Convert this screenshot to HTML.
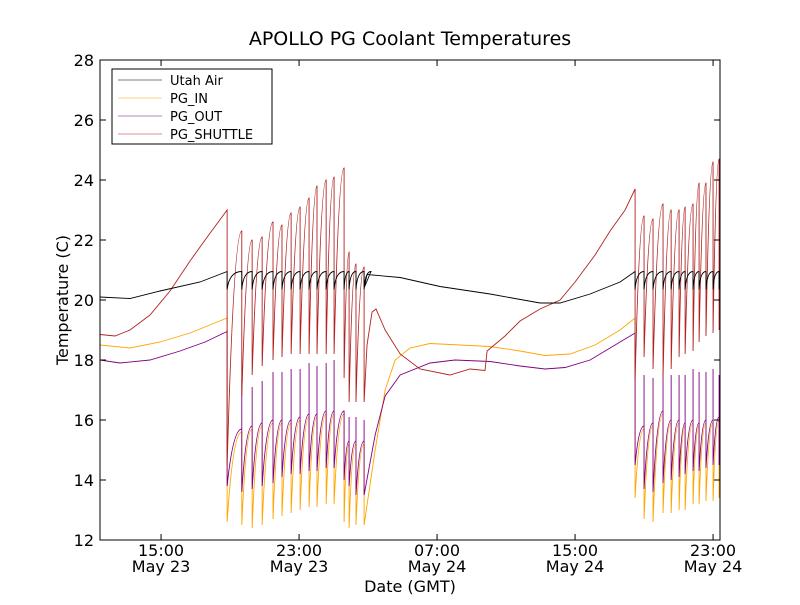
<!DOCTYPE html>
<html><head><meta charset="utf-8"><style>
body{margin:0;background:#fff;}
svg text{font-family:"DejaVu Sans","Liberation Sans",sans-serif;}
</style></head><body>
<svg id="chart" width="800" height="600" xmlns="http://www.w3.org/2000/svg">
<rect width="800" height="600" fill="#fff"/>
<defs><clipPath id="clip"><rect x="100" y="60" width="620" height="480"/></clipPath></defs>
<text x="410" y="45" text-anchor="middle" font-size="19">APOLLO PG Coolant Temperatures</text>
<g id="plot" clip-path="url(#clip)"></g>
<rect x="100" y="60" width="620" height="480" fill="none" stroke="#000" stroke-width="1"/>
<g id="axes"></g>
<text x="410" y="592" text-anchor="middle" font-size="16">Date (GMT)</text>
<text transform="translate(68,300) rotate(-90)" text-anchor="middle" font-size="16">Temperature (C)</text>
<g>
<rect x="112" y="69" width="160" height="75" fill="#fff" stroke="#000" stroke-width="1"/>
<g><line x1="118" y1="80" x2="162" y2="80" stroke="#000" stroke-width="0.6"/><text x="170" y="85" font-size="13">Utah Air</text></g>
<g><line x1="118" y1="98" x2="162" y2="98" stroke="orange" stroke-width="0.6"/><text x="170" y="103" font-size="13">PG_IN</text></g>
<g><line x1="118" y1="116" x2="162" y2="116" stroke="purple" stroke-width="0.6"/><text x="170" y="121" font-size="13">PG_OUT</text></g>
<g><line x1="118" y1="134" x2="162" y2="134" stroke="#b22222" stroke-width="0.6"/><text x="170" y="139" font-size="13">PG_SHUTTLE</text></g>
</g>
</svg>
<script>
// hours since May 23 00:00
const yTicks=[12,14,16,18,20,22,24,26,28];
const xTickHours=[15,23,31,39,47];
const xTickTimes=["15:00","23:00","07:00","15:00","23:00"];
const xTickDays=["May 23","May 23","May 24","May 24","May 24"];

const airPreT=[11.46,13.2,14.94,17.26,18.83];
const airPreV=[20.1,20.05,20.3,20.6,20.95];
const airMidT=[26.77,26.94,28.86,31.17,34.07,36.97,38.13,39.87,41.61,42.48];
const airMidV=[20.4,20.85,20.75,20.45,20.2,19.9,19.9,20.2,20.6,20.95];
const airPeak=20.95, airTrough=20.35;

const shPreT=[11.46,12.33,13.2,14.36,15.52,16.68,17.55,18.83];
const shPreV=[18.85,18.8,19.0,19.5,20.3,21.3,22.0,23.0];
const shMidT=[26.77,26.94,27.23,27.46,27.99,28.86,30.01,31.75,32.91,33.78,33.9,34.94,35.81,36.97,38.13,39.0,40.16,41.03,41.9,42.48];
const shMidV=[16.6,18.5,19.6,19.7,19.0,18.2,17.7,17.5,17.7,17.65,18.3,18.8,19.3,19.7,20.0,20.6,21.5,22.3,23.0,23.7];

const inPreT=[11.46,13.2,14.94,16.68,18.83];
const inPreV=[18.5,18.4,18.6,18.9,19.4];
const inMidT=[26.77,27.41,27.99,28.57,29.43,30.59,32.33,34.07,35.81,37.26,38.71,40.16,41.61,42.48];
const inMidV=[12.5,15.0,17.0,18.0,18.4,18.55,18.5,18.45,18.3,18.15,18.2,18.5,19.0,19.4];

const outPreT=[11.46,12.62,14.36,16.1,17.55,18.83];
const outPreV=[18.0,17.9,18.0,18.3,18.6,18.95];
const outMidT=[26.77,27.41,27.99,28.86,30.59,32.04,34.07,35.81,37.26,38.42,39.87,41.32,42.48];
const outMidV=[13.5,15.5,16.8,17.5,17.9,18.0,17.95,17.8,17.7,17.75,18.0,18.5,18.9];

const b1T=[18.83,19.68,20.28,20.86,21.49,22.01,22.54,23.06,23.58,24.04,24.57,25.03,25.61,25.90,26.30,26.77];
const b1ShPeak=[23.0,22.3,22.0,22.1,22.6,22.5,22.9,23.1,23.4,23.8,24.0,24.1,24.4,21.6,21.2,21.1];
const b1ShTrough=[14.5,16.8,17.5,17.8,18.0,18.1,18.2,18.2,18.2,18.2,18.2,18.2,17.4,16.6,16.6,16.6];
const b1OutTop=[19.0,17.4,17.1,17.3,17.6,17.6,17.7,17.7,17.9,17.8,17.9,18.0,16.2,16.1,16.1,16.0];
const b1OutBot=[13.8,13.6,13.7,13.8,13.9,14.1,14.2,14.2,14.3,14.3,14.4,14.4,14.0,13.8,13.5,13.5];
const b1OutPre=[18.95,15.7,15.8,15.9,16.0,16.0,16.0,16.1,16.2,16.2,16.3,16.3,16.3,15.3,15.3,15.3];
const b1InBot=[12.6,12.5,12.4,12.5,12.7,12.8,12.9,13.0,13.1,13.1,13.2,13.2,12.6,12.4,12.5,12.5];
const b1InPre=[19.4,15.6,15.7,15.8,15.9,15.9,15.9,16.0,16.1,16.1,16.2,16.2,16.2,15.2,15.2,15.2];

const b2T=[42.48,43.0,43.52,44.10,44.57,45.03,45.38,45.84,46.19,46.59,47.0,47.35];
const b2ShPeak=[23.7,22.8,22.7,23.2,23.0,23.0,23.1,23.2,23.9,23.9,24.6,24.7];
const b2ShTrough=[17.3,18.1,17.7,17.4,17.7,18.1,18.2,18.3,18.6,18.8,18.9,19.0];
const b2OutTop=[18.9,17.5,17.4,17.6,17.5,17.5,17.5,17.7,17.6,17.6,17.7,17.5];
const b2OutBot=[14.5,13.7,13.6,13.9,14.0,14.1,14.2,14.3,14.3,14.4,14.5,14.5];
const b2OutPre=[18.9,15.8,15.9,16.3,16.0,16.0,15.9,16.0,15.9,16.0,16.0,16.1];
const b2InBot=[13.4,12.7,12.6,12.9,12.9,13.0,13.0,13.2,13.2,13.3,13.3,13.4];
const b2InPre=[19.4,15.7,15.8,16.2,15.9,15.9,15.8,15.9,15.8,15.9,15.9,16.0];

const NS="http://www.w3.org/2000/svg";
const X=h=>100+(h-11.46)*17.25;
const Y=v=>540-(v-12)*30;
const plot=document.getElementById('plot');
const axes=document.getElementById('axes');

function lineD(T,V,start){let d='';for(let i=0;i<T.length;i++)d+=(i===0&&start?'M':'L')+X(T[i]).toFixed(2)+' '+Y(V[i]).toFixed(2)+' ';return d;}
function curve(t0,v0,t1,v1,f){const cx=t0+(t1-t0)*f;return 'Q'+X(cx).toFixed(2)+' '+Y(v1).toFixed(2)+' '+X(t1).toFixed(2)+' '+Y(v1).toFixed(2)+' ';}

function shuttleBlock(T,P,Tr){let d='';for(let i=0;i<T.length;i++){d+='L'+X(T[i]).toFixed(2)+' '+Y(P[i]).toFixed(2)+' L'+X(T[i]).toFixed(2)+' '+Y(Tr[i]).toFixed(2)+' ';if(i<T.length-1)d+=curve(T[i],Tr[i],T[i+1],P[i+1],0.45);}return d;}
function outBlock(T,Pre,Top,Bot){let d='';for(let i=0;i<T.length;i++){d+='L'+X(T[i]).toFixed(2)+' '+Y(Pre[i]).toFixed(2)+' L'+X(T[i]).toFixed(2)+' '+Y(Top[i]).toFixed(2)+' L'+X(T[i]).toFixed(2)+' '+Y(Bot[i]).toFixed(2)+' ';if(i<T.length-1)d+=curve(T[i],Bot[i],T[i+1],Pre[i+1],0.4);}return d;}
function inBlock(T,Pre,Bot){let d='';for(let i=0;i<T.length;i++){d+='L'+X(T[i]).toFixed(2)+' '+Y(Pre[i]).toFixed(2)+' L'+X(T[i]).toFixed(2)+' '+Y(Bot[i]).toFixed(2)+' ';if(i<T.length-1)d+=curve(T[i],Bot[i],T[i+1],Pre[i+1],0.4);}return d;}
function airBlock(T){let d='';for(let i=0;i<T.length;i++){d+='L'+X(T[i]).toFixed(2)+' '+Y(airPeak).toFixed(2)+' L'+X(T[i]).toFixed(2)+' '+Y(airTrough).toFixed(2)+' ';const tn=i<T.length-1?T[i+1]:T[i]+0.4;d+=curve(T[i],airTrough,tn,airPeak,0.15);}return d;}

function addPath(d,color,name){const p=document.createElementNS(NS,'path');p.setAttribute('d',d);p.setAttribute('fill','none');p.setAttribute('stroke',color);p.setAttribute('stroke-width','0.9');


plot.appendChild(p);}

addPath(lineD(inPreT,inPreV,true)+inBlock(b1T,b1InPre,b1InBot)+lineD(inMidT,inMidV,false)+inBlock(b2T,b2InPre,b2InBot),'orange','pg-in-line');
addPath(lineD(outPreT,outPreV,true)+outBlock(b1T,b1OutPre,b1OutTop,b1OutBot)+lineD(outMidT,outMidV,false)+outBlock(b2T,b2OutPre,b2OutTop,b2OutBot),'purple','pg-out-line');
addPath(lineD(shPreT,shPreV,true)+shuttleBlock(b1T,b1ShPeak,b1ShTrough)+lineD(shMidT,shMidV,false)+shuttleBlock(b2T,b2ShPeak,b2ShTrough),'#b22222','pg-shuttle-line');
addPath(lineD(airPreT,airPreV,true)+airBlock(b1T)+lineD(airMidT,airMidV,false)+airBlock(b2T),'#000','utah-air-line');

yTicks.forEach(v=>{const y=Y(v);
const g=document.createElementNS(NS,'g');


g.innerHTML=`<line x1="100" y1="${y}" x2="106" y2="${y}" stroke="#000"/><line x1="714" y1="${y}" x2="720" y2="${y}" stroke="#000"/><text x="94" y="${y+6}" text-anchor="end" font-size="16">${v}</text>`;
axes.appendChild(g);});
xTickHours.forEach((h,i)=>{const x=X(h);
const g=document.createElementNS(NS,'g');


g.innerHTML=`<line x1="${x}" y1="540" x2="${x}" y2="534" stroke="#000"/><line x1="${x}" y1="60" x2="${x}" y2="66" stroke="#000"/><text x="${x}" y="556" text-anchor="middle" font-size="16">${xTickTimes[i]}</text><text x="${x}" y="572" text-anchor="middle" font-size="16">${xTickDays[i]}</text>`;
axes.appendChild(g);});
</script>
</body></html>
